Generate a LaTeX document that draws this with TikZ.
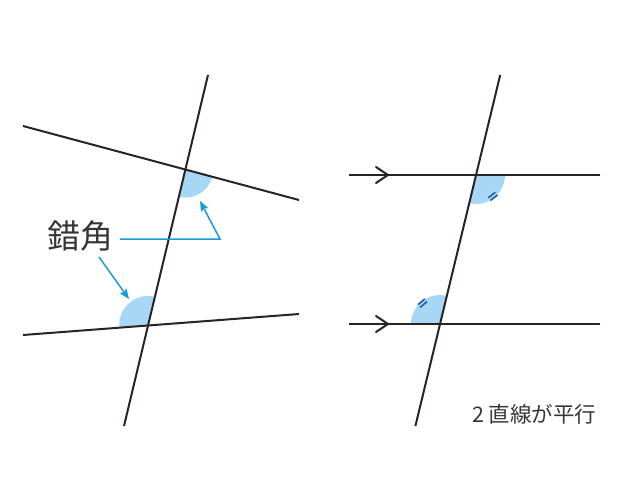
\documentclass[tikz,border=0pt]{standalone}
\usepackage{fontspec}
\newfontfamily\cjk{Noto Sans CJK JP}
\usetikzlibrary{arrows.meta,calc}
\definecolor{ink}{HTML}{2B2323}
\definecolor{lblue}{HTML}{A6D7F4}
\definecolor{cblue}{HTML}{1A9AD8}
\definecolor{mblue}{HTML}{1F5FA8}
\definecolor{txt}{HTML}{363636}
\begin{document}
\begin{tikzpicture}[x=1pt,y=-1pt,
  line/.style={ink,line width=2pt},
  wedge/.style={fill=lblue},
  callout/.style={cblue,line width=1.5pt},
  eqmark/.style={mblue,line width=1.6pt},
  chev/.style={ink,line width=2pt,line cap=round,line join=miter},
  lbl/.style={font=\cjk,text=txt,inner sep=0pt}]
\useasboundingbox (0,0) rectangle (640,480);
% ---------- left figure ----------
\coordinate (LT1) at (208,75);
\coordinate (LT2) at (124,426);
\coordinate (LU1) at (23,126);
\coordinate (LU2) at (299,200);
\coordinate (LL1) at (23,335);
\coordinate (LL2) at (299,314);
\coordinate (I1) at (185.4,169.6);
\coordinate (I2) at (148.2,325.0);
\fill[wedge] (I1) -- ++(15:28) arc[start angle=15,end angle=103.5,radius=28] -- cycle;
\fill[wedge] (I2) -- ++(175.6:29) arc[start angle=175.6,end angle=283.5,radius=29] -- cycle;
\draw[line] (LT1) -- (LT2);
\draw[line] (LU1) -- (LU2);
\draw[line] (LL1) -- (LL2);
\node[lbl,font=\cjk\fontsize{33}{33}\selectfont] (lab) at (80,236) {錯角};
\coordinate (c1s) at (120,239);
\coordinate (c1e) at (220,239);
\coordinate (c1t) at (200,201);
\coordinate (c2s) at (99,257);
\coordinate (c2t) at (129,299);
\draw[callout,-{Stealth[length=10pt,width=8pt,inset=1.5pt]}] (c1s) -- (c1e) -- (c1t);
\draw[callout,-{Stealth[length=10pt,width=8pt,inset=1.5pt]}] (c2s) -- (c2t);
% ---------- right figure ----------
\coordinate (RT1) at (500.2,75);
\coordinate (RT2) at (415.4,426);
\coordinate (RU1) at (349,175);
\coordinate (RU2) at (600,175);
\coordinate (RL1) at (349,324);
\coordinate (RL2) at (600,324);
\coordinate (I3) at (476,175);
\coordinate (I4) at (440,324);
\fill[wedge] (I3) -- ++(0:29) arc[start angle=0,end angle=103.6,radius=29] -- cycle;
\fill[wedge] (I4) -- ++(180:29) arc[start angle=180,end angle=283.6,radius=29] -- cycle;
\draw[line] (RT1) -- (RT2);
\draw[line] (RU1) -- (RU2);
\draw[line] (RL1) -- (RL2);
\draw[chev] (376,167) -- (388,175) -- (376,183);
\draw[chev] (376,316) -- (388,324) -- (376,332);
\foreach \r in {25.5,29}{
  \draw[eqmark] ($(I3)+(51.8:\r)+(-38.2:4.5)$) -- ($(I3)+(51.8:\r)+(141.8:4.5)$);
  \draw[eqmark] ($(I4)+(230:\r)+(140:4.5)$) -- ($(I4)+(230:\r)+(-40:4.5)$);
}
\node[lbl,font=\cjk\fontsize{21.5}{21.5}\selectfont,anchor=west] (cap) at (472,414) {2 直線が平行};
\end{tikzpicture}
\end{document}
